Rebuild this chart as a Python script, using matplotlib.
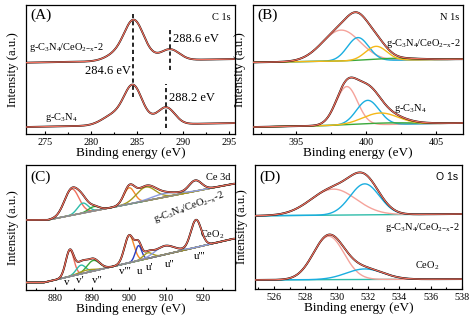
import numpy as np
import matplotlib
matplotlib.use('Agg')
import matplotlib.pyplot as plt
from matplotlib.ticker import MultipleLocator

plt.rcParams['font.family'] = ['Liberation Serif', 'DejaVu Serif']
plt.rcParams['mathtext.fontset'] = 'custom'
plt.rcParams['mathtext.rm'] = 'Liberation Serif'
plt.rcParams['mathtext.it'] = 'Liberation Serif:italic'
plt.rcParams['mathtext.bf'] = 'Liberation Serif:bold'

# ---------------- data ----------------
# Panel A : C 1s  (peak centre eV, height, FWHM eV)
A_xlim = (272.9, 295.7)
A_top_base_x = [272.9, 295.7]; A_top_base_y = [0.553, 0.581]
A_top_centers = [283.0, 284.7, 286.3, 288.6]
A_top_heights = [0.06, 0.29, 0.02, 0.085]
A_top_fwhm = [3.0, 2.4, 2.0, 2.4]
A_bot_base_x = [272.9, 295.7]; A_bot_base_y = [0.054, 0.085]
A_bot_centers = [282.5, 284.6, 286.5, 288.2]
A_bot_heights = [0.08, 0.29, 0.02, 0.13]
A_bot_fwhm = [3.0, 2.3, 2.0, 2.2]
A_marks = [284.6, 288.6, 288.2]

# Panel B : N 1s
B_xlim = (391.9, 406.9)
B_top_base_x = [391.9, 406.9]; B_top_base_y = [0.555, 0.58]
B_top_centers = [398.2, 399.4, 402.0, 400.7]
B_top_heights = [0.24, 0.18, 0.015, 0.11]
B_top_fwhm = [3.2, 1.8, 4.0, 1.8]
B_bot_base_x = [391.9, 406.9]; B_bot_base_y = [0.054, 0.085]
B_bot_centers = [398.6, 400.1, 401.5, 401.0]
B_bot_heights = [0.30, 0.19, 0.012, 0.09]
B_bot_fwhm = [1.8, 1.9, 5.0, 3.0]

# Panel C : Ce 3d
C_xlim = (872.2, 928.5)
C_top_base_x = [878.0, 928.0]; C_top_base_y = [0.56, 0.85]
C_top_centers = [884.5, 887.5, 890.5, 900.0, 904.5, 909.5, 917.8]
C_top_heights = [0.21, 0.08, 0.035, 0.13, 0.11, 0.03, 0.085]
C_top_fwhm = [4.6, 3.4, 3.4, 3.4, 6.0, 8.0, 4.0]
C_bot_base_x = [877.0, 928.0]; C_bot_base_y = [0.06, 0.41]
C_bot_centers = [884.0, 887.0, 890.3, 888.5, 900.0, 902.5, 905.0, 909.5, 918.0]
C_bot_heights = [0.21, 0.07, 0.085, 0.02, 0.22, 0.12, 0.045, 0.07, 0.22]
C_bot_fwhm = [2.6, 3.0, 4.0, 5.0, 3.0, 2.0, 3.0, 6.0, 3.3]
C_peak_names = ["v", "v'", "v''", "v'''", "u", "u'", "u''", "u'''"]

# Panel D : O 1s
D_xlim = (524.8, 538.0)
D_top_base_x = [524.8, 538.0]; D_top_base_y = [0.59, 0.605]
D_top_centers = [529.8, 531.8]
D_top_heights = [0.21, 0.25]
D_top_fwhm = [3.4, 2.2]
D_bot_base_x = [524.8, 538.0]; D_bot_base_y = [0.073, 0.08]
D_bot_centers = [529.5, 531.8]
D_bot_heights = [0.35, 0.085]
D_bot_fwhm = [2.3, 2.8]

# ---------------- styles ----------------
RED = '#f0705f'; PINK = '#f5a39b'; BLUE = '#1aaee0'; YEL = '#f5b818'; GRN = '#3aa83a'
TEAL = '#2fbcaa'; ORG = '#f5892a'; DBLUE = '#2a3cc0'; OLIVE = '#a89a1c'
LAV = '#8c9be0'; GREY = '#8c8c8c'; BTEAL = '#25b4b4'

B_cols = [PINK, BLUE, GRN, YEL]
C_top_cols = [RED, TEAL, GRN, ORG, OLIVE, LAV, GREY]
C_bot_cols = [RED, TEAL, GRN, OLIVE, ORG, DBLUE, OLIVE, LAV, GREY]
D_cols = [PINK, BLUE]


def peak(x, c, h, w):
    s = w / 2.3548
    return h * np.exp(-(x - c) ** 2 / (2 * s * s))


def spectrum(ax, xlim, bx, by, cs, hs, ws, cols=None, base_col=None):
    x = np.linspace(xlim[0], xlim[1], 800)
    base = np.interp(x, bx, by)
    comps = [peak(x, c, h, w) for c, h, w in zip(cs, hs, ws)]
    env = base + np.sum(comps, axis=0)
    if base_col is not None:
        m = (x >= bx[0]) & (x <= bx[1])
        ax.plot(x[m], base[m], color=base_col, lw=1.0, zorder=2)
    if cols is not None:
        for comp, col in zip(comps, cols):
            ax.plot(x, base + comp, color=col, lw=1.0, zorder=3)
    ax.plot(x, env, color='black', lw=1.35, zorder=4)
    ax.plot(x, env, color=RED, lw=0.9, zorder=5)


W, H = 476, 319
fig = plt.figure(figsize=(W / 100, H / 100), dpi=100)


def make_ax(l, r, t, b, xlim, major, minor):
    ax = fig.add_axes([l / W, 1 - b / H, (r - l) / W, (b - t) / H])
    ax.set_xlim(*xlim)
    ax.set_ylim(0, 1)
    ax.set_yticks([])
    ax.xaxis.set_major_locator(MultipleLocator(major))
    ax.xaxis.set_minor_locator(MultipleLocator(minor))
    ax.tick_params(axis='x', which='both', direction='in', labelsize=7.3, pad=3,
                   length=2.5, width=0.8)
    ax.tick_params(axis='x', which='minor', length=1.5)
    for sp in ax.spines.values():
        sp.set_linewidth(0.9)
    fig.text((l + r) / 2 / W, 1 - (b + 19) / H, 'Binding energy (eV)',
             ha='center', va='center', fontsize=9.5)
    fig.text((l - 13) / W, 1 - (t + b) / 2 / H, 'Intensity (a.u.)', rotation=90,
             ha='center', va='center', fontsize=9.2)
    return ax


lab = r'g-C$_3$N$_4$/CeO$_{2\mathrm{-x}}$-2'
lab_g = r'g-C$_3$N$_4$'

# ---- A ----
axA = make_ax(26, 235, 5, 134, A_xlim, 5, 2.5)
spectrum(axA, A_xlim, A_top_base_x, A_top_base_y, A_top_centers, A_top_heights, A_top_fwhm)
spectrum(axA, A_xlim, A_bot_base_x, A_bot_base_y, A_bot_centers, A_bot_heights, A_bot_fwhm)
spans = [(0.29, 0.95), (0.50, 0.82), (0.05, 0.39)]
for xm, (y0, y1) in zip(A_marks, spans):
    axA.plot([xm, xm], [y0, y1], color='black', lw=1.2, ls=(0, (2.5, 1.8)), zorder=6)
axA.text(A_marks[1] + 0.3, 0.74, '%.1f eV' % A_marks[1], fontsize=9, va='center')
axA.text(A_marks[0] - 0.3, 0.49, '%.1f eV' % A_marks[0], fontsize=9, va='center', ha='right')
axA.text(A_marks[2] + 0.3, 0.28, '%.1f eV' % A_marks[2], fontsize=9, va='center')
axA.text(273.2, 0.67, lab, fontsize=7.5, va='center')
axA.text(275.0, 0.13, lab_g, fontsize=7.5, va='center')
axA.text(0.02, 0.92, '(A)', transform=axA.transAxes, fontsize=11, va='center')
axA.text(0.98, 0.9, 'C 1s', transform=axA.transAxes, fontsize=7.5, va='center', ha='right')

# ---- B ----
axB = make_ax(253, 463, 5, 134, B_xlim, 5, 2.5)
spectrum(axB, B_xlim, B_top_base_x, B_top_base_y, B_top_centers, B_top_heights, B_top_fwhm, B_cols)
spectrum(axB, B_xlim, B_bot_base_x, B_bot_base_y, B_bot_centers, B_bot_heights, B_bot_fwhm, B_cols)
axB.text(0.99, 0.705, lab, transform=axB.transAxes, fontsize=7.5, va='center', ha='right')
axB.text(402.0, 0.2, lab_g, fontsize=7.5, va='center')
axB.text(0.02, 0.92, '(B)', transform=axB.transAxes, fontsize=11, va='center')
axB.text(0.98, 0.9, 'N 1s', transform=axB.transAxes, fontsize=7.5, va='center', ha='right')

# ---- C ----
axC = make_ax(26, 235, 165, 290, C_xlim, 10, 5)
spectrum(axC, C_xlim, C_top_base_x, C_top_base_y, C_top_centers, C_top_heights, C_top_fwhm,
         C_top_cols, base_col=GREY)
spectrum(axC, C_xlim, C_bot_base_x, C_bot_base_y, C_bot_centers, C_bot_heights, C_bot_fwhm,
         C_bot_cols, base_col=BTEAL)
name_pos = [(883.2, 0.06), (886.8, 0.075), (891.3, 0.075), (898.9, 0.145), (902.9, 0.145),
            (905.6, 0.18), (911.0, 0.205), (919.0, 0.27)]
for nm, (px, py) in zip(C_peak_names, name_pos):
    axC.text(px, py, nm, fontsize=8, ha='center', va='center')
axC.text(922.3, 0.44, r'CeO$_2$', fontsize=7.5, ha='center', va='center')
axC.text(916.0, 0.66, lab, fontsize=7.5, ha='center', va='center', rotation=20,
         rotation_mode='anchor')
axC.text(0.02, 0.9, '(C)', transform=axC.transAxes, fontsize=11, va='center')
axC.text(0.98, 0.9, 'Ce 3d', transform=axC.transAxes, fontsize=7.5, va='center', ha='right')

# ---- D ----
axD = make_ax(255, 462, 165, 289, D_xlim, 2, 1)
spectrum(axD, D_xlim, D_top_base_x, D_top_base_y, D_top_centers, D_top_heights, D_top_fwhm,
         D_cols, base_col=TEAL)
spectrum(axD, D_xlim, D_bot_base_x, D_bot_base_y, D_bot_centers, D_bot_heights, D_bot_fwhm,
         D_cols, base_col=TEAL)
axD.text(0.99, 0.5, lab, transform=axD.transAxes, fontsize=7.5, va='center', ha='right')
axD.text(535.0, 0.19, r'CeO$_2$', fontsize=7.5, va='center')
axD.text(0.02, 0.9, '(D)', transform=axD.transAxes, fontsize=11, va='center')
axD.text(0.98, 0.9, 'O 1s', transform=axD.transAxes, fontsize=7.5, va='center', ha='right',
         family=['Liberation Sans', 'DejaVu Sans'])

fig.savefig('out.png', dpi=100)
